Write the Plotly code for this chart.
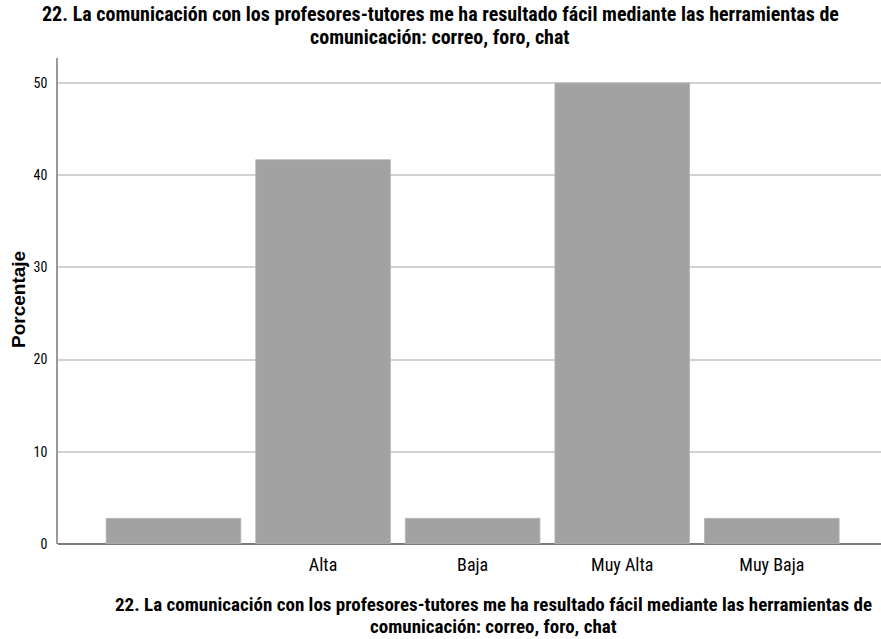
import plotly.graph_objects as go

categories = ["", "Alta", "Baja", "Muy Alta", "Muy Baja"]
percentages = [2.78, 41.67, 2.78, 50.0, 2.78]
y_ticks = [0, 10, 20, 30, 40, 50]
title_lines = [
    "22. La comunicación con los profesores-tutores me ha resultado fácil mediante las herramientas de",
    "comunicación: correo, foro, chat",
]
y_title = "Porcentaje"

NARROW = "'Roboto Condensed', 'DejaVu Sans Condensed', sans-serif"
REG = "'Liberation Sans', Arial, sans-serif"

x_pos = list(range(len(categories)))

fig = go.Figure()
fig.add_trace(go.Bar(
    x=x_pos, y=percentages,
    marker=dict(color="#a2a2a2", line=dict(color="#b4b4b4", width=0.8)),
    width=0.9, hoverinfo="skip",
))

W, H = 881, 639
L, R, T, B = 58, 0, 58, 95
PW, PH = W - L - R, H - T - B

annotations = []
for i, line in enumerate(title_lines):
    annotations.append(dict(
        text=line, xref="paper", yref="paper",
        x=(440 - L) / PW, y=1 + (T - (14 + 23 * i)) / PH,
        xanchor="center", yanchor="middle", showarrow=False,
        font=dict(family=NARROW, size=20, color="#000000", weight="bold"),
    ))
for i, line in enumerate(title_lines):
    annotations.append(dict(
        text=line, xref="paper", yref="paper",
        x=(494 - L) / PW, y=-((604 + 22 * i) - (H - B)) / PH,
        xanchor="center", yanchor="middle", showarrow=False,
        font=dict(family=NARROW, size=19, color="#000000", weight="bold"),
    ))
annotations.append(dict(
    text=y_title, xref="paper", yref="paper",
    x=-(L - 18) / PW, y=(H - B - 300) / PH,
    xanchor="center", yanchor="middle", textangle=-90, showarrow=False,
    font=dict(family=REG, size=19, color="#000000", weight="bold"),
))

fig.update_layout(
    width=W, height=H,
    margin=dict(l=L, r=R, t=T, b=B, pad=0),
    paper_bgcolor="white", plot_bgcolor="white",
    showlegend=False,
    annotations=annotations,
    xaxis=dict(
        range=[-0.772, 4.73],
        tickmode="array", tickvals=x_pos, ticktext=categories,
        tickfont=dict(family=NARROW, size=18, color="#000000"),
        showgrid=False, zeroline=False,
        showline=False, ticks="", ticklabelstandoff=8,
    ),
    yaxis=dict(
        range=[0, 52.7],
        tickmode="array", tickvals=y_ticks,
        tickfont=dict(family=NARROW, size=14, color="#000000"),
        showgrid=True, gridcolor="#d2d2d2", gridwidth=1.5,
        zeroline=True, zerolinecolor="#7a7a7a", zerolinewidth=1.5,
        showline=True, linecolor="#9a9a9a", linewidth=1.5,
        ticks="", ticklabelstandoff=6,
    ),
)

fig.write_html("out.html", config={"displayModeBar": False},
               post_script="document.body.style.margin='0';")
